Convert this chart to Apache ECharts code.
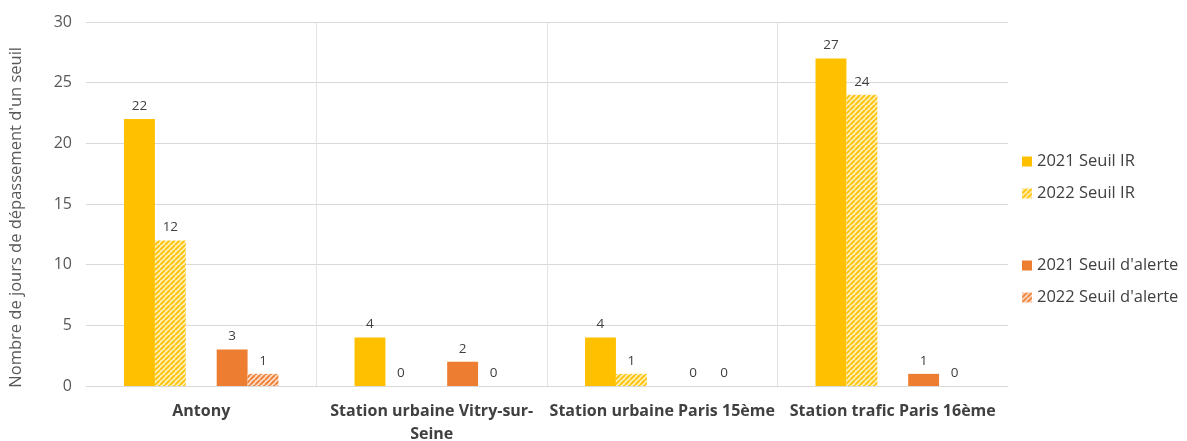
<!DOCTYPE html>
<html>
<head>
<meta charset="utf-8">
<script src="https://cdn.jsdelivr.net/npm/echarts@6/dist/echarts.min.js"></script>
<style>
  html, body { margin: 0; padding: 0; background: #ffffff; }
  #chart { width: 1187px; height: 441px; }
</style>
</head>
<body>
<div id="chart"></div>
<script>
// Stations (x axis)
const stations = ['Antony', 'Station urbaine Vitry-sur-\nSeine', 'Station urbaine Paris 15ème', 'Station trafic Paris 16ème'];
// Number of days above each threshold
const ir2021 = [22, 4, 4, 27];
const ir2022 = [12, 0, 1, 24];
const alerte2021 = [3, 2, 0, 1];
const alerte2022 = [1, 0, 0, 0];
const yTicks = [0, 5, 10, 15, 20, 25, 30];

const YELLOW = '#FFC000';
const ORANGE = '#ED7D31';
const TEXT = '#404040';
const FONT = '"Open Sans", sans-serif';

// Diagonal hatch fill (///) for the 2022 series
function hatch(color, bg) {
  const size = 5;
  const c = document.createElement('canvas');
  c.width = size; c.height = size;
  const ctx = c.getContext('2d');
  ctx.fillStyle = bg;
  ctx.fillRect(0, 0, size, size);
  ctx.strokeStyle = color;
  ctx.lineWidth = 1.8;
  ctx.beginPath();
  for (let k = -1; k <= 1; k++) {
    ctx.moveTo(k * size, size);
    ctx.lineTo(k * size + size, 0);
  }
  ctx.stroke();
  return { image: c, repeat: 'repeat' };
}

const label = {
  show: true,
  position: 'top',
  distance: 6,
  color: TEXT,
  fontFamily: FONT,
  fontSize: 13.5
};

function barSeries(name, data, color) {
  return {
    name: name,
    type: 'bar',
    data: data,
    barGap: '0%',
    barCategoryGap: '33%',
    itemStyle: { color: color },
    label: label
  };
}

const legendText = { color: TEXT, fontFamily: FONT, fontSize: 16.5 };

const chart = echarts.init(document.getElementById('chart'), null, { renderer: 'canvas' });
chart.setOption({
  animation: false,
  backgroundColor: '#ffffff',
  grid: { left: 86, right: 179, top: 22, bottom: 55, containLabel: false, outerBoundsMode: 'none' },
  legend: [
    {
      orient: 'vertical', left: 1017, top: 148,
      itemWidth: 10, itemHeight: 10, itemGap: 15,
      icon: 'rect',
      textStyle: legendText,
      data: ['2021 Seuil IR', '2022 Seuil IR']
    },
    {
      orient: 'vertical', left: 1017, top: 252,
      itemWidth: 10, itemHeight: 10, itemGap: 15,
      icon: 'rect',
      textStyle: legendText,
      data: ["2021 Seuil d'alerte", "2022 Seuil d'alerte"]
    }
  ],
  xAxis: {
    type: 'category',
    data: stations,
    axisLine: { show: true, lineStyle: { color: '#d9d9d9' } },
    axisTick: { show: false },
    splitLine: {
      show: true,
      interval: 0,
      showMinLine: false,
      showMaxLine: false,
      lineStyle: { color: '#e3e3e3' }
    },
    axisLabel: {
      interval: 0,
      color: TEXT, fontFamily: FONT, fontSize: 16, fontWeight: 'bold',
      margin: 14, lineHeight: 23
    }
  },
  yAxis: {
    type: 'value',
    min: yTicks[0],
    max: yTicks[yTicks.length - 1],
    interval: 5,
    axisLine: { show: false },
    axisTick: { show: false },
    splitLine: { lineStyle: { color: '#d9d9d9' } },
    axisLabel: { color: '#595959', fontFamily: FONT, fontSize: 16, margin: 14 }
  },
  graphic: [{
    type: 'text',
    left: 8,
    top: 47,
    rotation: Math.PI / 2,
    style: {
      text: "Nombre de jours de dépassement d'un seuil",
      fill: '#595959',
      font: '16.5px "Open Sans", sans-serif'
    }
  }],
  series: [
    barSeries('2021 Seuil IR', ir2021, YELLOW),
    barSeries('2022 Seuil IR', ir2022, hatch(YELLOW, '#FFF0B8')),
    { name: '', type: 'bar', data: ir2021.map(() => null), barGap: '0%', barCategoryGap: '33%' },
    barSeries("2021 Seuil d'alerte", alerte2021, ORANGE),
    barSeries("2022 Seuil d'alerte", alerte2022, hatch(ORANGE, '#FADCC6'))
  ]
});
</script>
</body>
</html>
